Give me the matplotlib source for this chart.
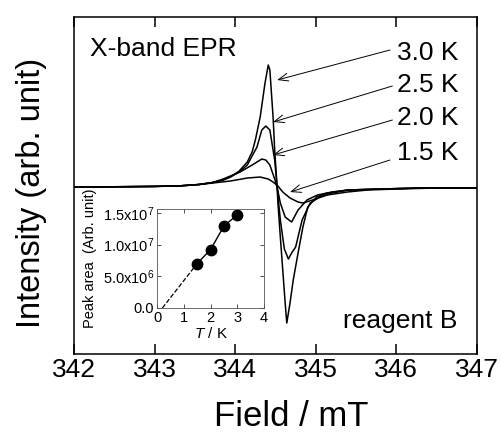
import matplotlib
matplotlib.use('Agg')
import matplotlib.pyplot as plt
import numpy as np

plt.rcParams['font.family'] = ['Liberation Sans', 'DejaVu Sans']
plt.rcParams['mathtext.fontset'] = 'custom'
plt.rcParams['mathtext.rm'] = 'Liberation Sans'
plt.rcParams['mathtext.it'] = 'Liberation Sans:italic'

# EPR spectra: field (mT) and intensity (arb. unit, baseline = 0)
field_30 = [342.00, 342.60, 343.00, 343.32, 343.55, 343.72, 343.85, 343.94, 344.05,
            344.15, 344.21, 344.25, 344.31, 344.34, 344.37, 344.41, 344.43, 344.47,
            344.49, 344.52, 344.53, 344.56, 344.59, 344.62, 344.64, 344.68, 344.72,
            344.78, 344.84, 344.90, 345.01, 345.14, 345.40, 345.80, 346.30, 347.00]
inten_30 = [0, 0.3, 0.6, 1.2, 2.5, 4.5, 7, 10, 16, 25, 35, 47, 70, 87, 104, 122, 117,
            70, 37, 0, -16, -50, -83, -116, -136, -116, -93, -66, -40, -20, -10, -6,
            -3, -2, -1, -1]

field_25 = [342.00, 342.60, 343.00, 343.32, 343.55, 343.72, 343.85, 343.94, 344.05,
            344.15, 344.27, 344.33, 344.38, 344.43, 344.49, 344.52, 344.56, 344.61,
            344.66, 344.70, 344.75, 344.83, 344.93, 345.05, 345.20, 345.40, 345.80,
            346.30, 347.00]
inten_25 = [0, 0.3, 0.6, 1.2, 2.5, 4.5, 7, 10, 15, 22, 40, 57, 61, 57, 27, 0, -33,
            -62, -72, -66, -60, -33, -16, -10, -6, -3, -2, -1, -1]

field_20 = [342.00, 342.60, 343.00, 343.32, 343.55, 343.72, 343.85, 344.06, 344.21,
            344.33, 344.38, 344.43, 344.49, 344.52, 344.56, 344.62, 344.70, 344.78,
            344.89, 345.02, 345.20, 345.40, 345.80, 346.30, 347.00]
inten_20 = [0, 0.3, 0.6, 1.2, 2.5, 4.5, 8, 15, 22, 28, 27, 22, 8, 0, -16, -30, -35,
            -23, -13, -8, -5, -3, -2, -1, -1]

field_15 = [342.00, 342.60, 343.00, 343.32, 343.55, 343.72, 343.94, 344.15, 344.31,
            344.41, 344.47, 344.53, 344.59, 344.68, 344.78, 344.84, 344.96, 345.14,
            345.39, 345.64, 346.00, 346.50, 347.00]
inten_15 = [0, 0.3, 0.6, 1.2, 2.5, 4, 6, 9, 10, 8, 5, 1, -5, -11, -15, -16, -13, -8,
            -5, -3, -2, -1, -1]

temps = ['3.0 K', '2.5 K', '2.0 K', '1.5 K']

# inset: integrated peak area vs temperature
T_inset = [1.5, 2.0, 2.5, 3.0]
area_inset = [7.0e6, 9.2e6, 1.29e7, 1.47e7]
T_intercept = 0.2

fig = plt.figure(figsize=(5.01, 4.33), dpi=100)
ax = fig.add_axes([0.1477, 0.1824, 0.8044, 0.7783])

for f, i in [(field_30, inten_30), (field_25, inten_25),
             (field_20, inten_20), (field_15, inten_15)]:
    ax.plot(f, i, color='black', lw=1.1)

ax.set_xlim(342, 347)
ax.set_ylim(-167, 170)
ax.set_xticks([342, 343, 344, 345, 346, 347])
ax.set_yticks([])
ax.tick_params(axis='x', direction='in', length=7, width=1.1, top=True,
               labelsize=19, pad=3)
for s in ax.spines.values():
    s.set_linewidth(1.1)

ax.set_xlabel('Field / mT', fontsize=25)
ax.xaxis.set_label_coords(0.54, -0.135)
ax.set_ylabel('Intensity (arb. unit)', fontsize=23.5)
ax.yaxis.set_label_coords(-0.067, 0.478)

ax.text(0.04, 0.905, 'X-band EPR', transform=ax.transAxes, fontsize=19,
        ha='left', va='center')
ax.text(0.952, 0.098, 'reagent B', transform=ax.transAxes, fontsize=19,
        ha='right', va='center')

# label arrows: (text y, arrow start, arrow tip)
label_y = [134, 102, 69, 34]
arrow_from = [(345.92, 137), (345.95, 101), (345.95, 67), (345.92, 27)]
arrow_to = [(344.52, 107), (344.47, 65), (344.47, 32), (344.68, -5)]
for lab, ly, a0, a1 in zip(temps, label_y, arrow_from, arrow_to):
    ax.text(346.01, ly, lab, fontsize=19, ha='left', va='center')
    ax.annotate('', xy=a1, xytext=a0,
                arrowprops=dict(arrowstyle='->,head_length=0.7,head_width=0.28',
                                lw=0.7, color='black', shrinkA=0, shrinkB=0))

# inset
ins = fig.add_axes([0.3134, 0.2887, 0.2136, 0.2286])
ins.plot(T_inset, area_inset, '-', color='black', lw=1.0)
ins.plot([T_intercept, T_inset[0]], [0, area_inset[0]], '--', color='black', lw=0.9)
ins.plot(T_inset, area_inset, 'o', color='black', ms=7.5)
ins.set_xlim(0, 4)
ins.set_ylim(0, 1.56e7)
ins.set_xticks([0, 1, 2, 3, 4])
ins.set_yticks([0, 5e6, 1e7, 1.5e7])
ins.set_yticklabels(['0.0', '5.0x10$^6$', '1.0x10$^7$', '1.5x10$^7$'])
ins.tick_params(direction='in', length=3, width=0.6, top=True, right=True,
                labelsize=10.5, pad=2, colors='#333333', labelcolor='black')
for s in ins.spines.values():
    s.set_linewidth(0.6)
    s.set_color('#555555')
ins.set_xlabel('$T$ / K', fontsize=11, labelpad=1)
ins.set_ylabel('Peak area  (Arb. unit)', fontsize=10.5, labelpad=4)

fig.savefig('out.png', dpi=100)
